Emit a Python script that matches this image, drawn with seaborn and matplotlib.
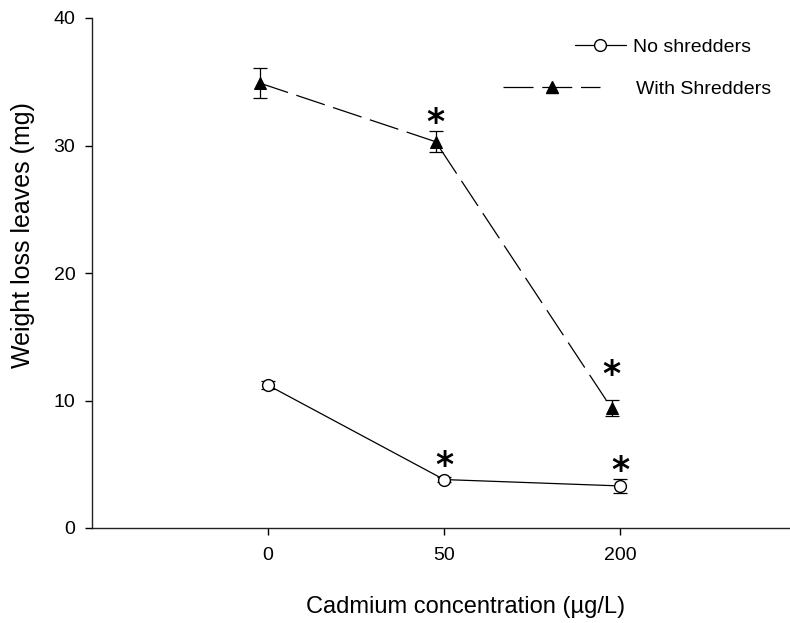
import numpy as np
import pandas as pd
import seaborn as sns
import matplotlib.pyplot as plt
from matplotlib.lines import Line2D

# values
doses = ["0", "50", "200"]
no_shred_mean = [11.2, 3.8, 3.3]
no_shred_err = [0.3, 0.2, 0.55]
with_shred_mean = [34.9, 30.3, 9.4]
with_shred_err = [1.2, 0.8, 0.65]
# asterisk heights (centre of the star), None = no star
no_shred_star = [None, 5.3, 4.9]
with_shred_star = [None, 32.2, 12.5]

sns.set_style("ticks")
plt.rcParams["font.family"] = ["Liberation Sans", "DejaVu Sans"]
plt.rcParams["text.color"] = "black"
plt.rcParams["axes.labelcolor"] = "black"

pos = np.arange(len(doses))
df_no = pd.DataFrame({"pos": pos, "mean": no_shred_mean, "err": no_shred_err})
df_with = pd.DataFrame({"pos": pos - 0.048, "mean": with_shred_mean, "err": with_shred_err})

fig = plt.figure(figsize=(7.9, 6.23), dpi=100)
ax = fig.add_axes([92 / 790, 95 / 623, 704 / 790, 510 / 623])

dash = (0, (24, 7))

for df in (df_no, df_with):
    ax.errorbar(df["pos"], df["mean"], yerr=df["err"], fmt="none", ecolor="black",
                elinewidth=0.9, capsize=5, capthick=0.9, zorder=2)

sns.lineplot(data=df_no, x="pos", y="mean", color="black", lw=0.9, marker="o",
             markersize=8.5, markerfacecolor="white", markeredgecolor="black",
             markeredgewidth=1, ax=ax, zorder=3)
sns.lineplot(data=df_with, x="pos", y="mean", color="black", lw=0.9, linestyle=dash,
             marker="^", markersize=9, markerfacecolor="black", markeredgecolor="black",
             ax=ax, zorder=3)

# significance stars
for df, stars in ((df_no, no_shred_star), (df_with, with_shred_star)):
    for x, s in zip(df["pos"], stars):
        if s is None:
            continue
        ax.annotate("*", xy=(x, s), xytext=(0, -11.5), textcoords="offset points",
                    ha="center", va="baseline", fontsize=25, fontweight="bold",
                    family="DejaVu Sans")

ax.set_xlim(-1, 3)
ax.set_ylim(0, 40)
ax.set_xticks(pos)
ax.set_xticklabels(doses)
ax.set_yticks([0, 10, 20, 30, 40])
ax.tick_params(axis="both", direction="out", length=5, width=1, labelsize=14,
               colors="black")
ax.tick_params(axis="y", pad=7)
ax.tick_params(axis="x", pad=9)
sns.despine(ax=ax)
for sp in ("left", "bottom"):
    ax.spines[sp].set_color("#222222")
    ax.spines[sp].set_linewidth(1)

ax.set_xlabel("Cadmium concentration (µg/L)", fontsize=17)
ax.set_ylabel("Weight loss leaves (mg)", fontsize=18)
ax.xaxis.set_label_coords(0.531, -0.133)
ax.yaxis.set_label_coords(-0.081, 0.575)

# legend: two entries with different handle lengths
h_no = Line2D([], [], color="black", lw=0.9, marker="o", markersize=8.5,
              markerfacecolor="white", markeredgecolor="black")
h_with = Line2D([], [], color="black", lw=0.9, linestyle=dash, marker="^",
                markersize=9, markerfacecolor="black")
leg1 = ax.legend([h_no], ["No shredders"], loc="center left",
                 bbox_to_anchor=(575 / 790, 1 - 47 / 623),
                 bbox_transform=fig.transFigure, frameon=False, fontsize=14,
                 handlelength=2.6, handletextpad=0.36, borderpad=0, borderaxespad=0,
                 numpoints=1)
ax.add_artist(leg1)
ax.legend([h_with], ["With Shredders"], loc="center left",
          bbox_to_anchor=(503 / 790, 1 - 89 / 623),
          bbox_transform=fig.transFigure, frameon=False, fontsize=14,
          handlelength=5.0, handletextpad=1.85, borderpad=0, borderaxespad=0,
          numpoints=1)

fig.savefig("out.png", dpi=100)
